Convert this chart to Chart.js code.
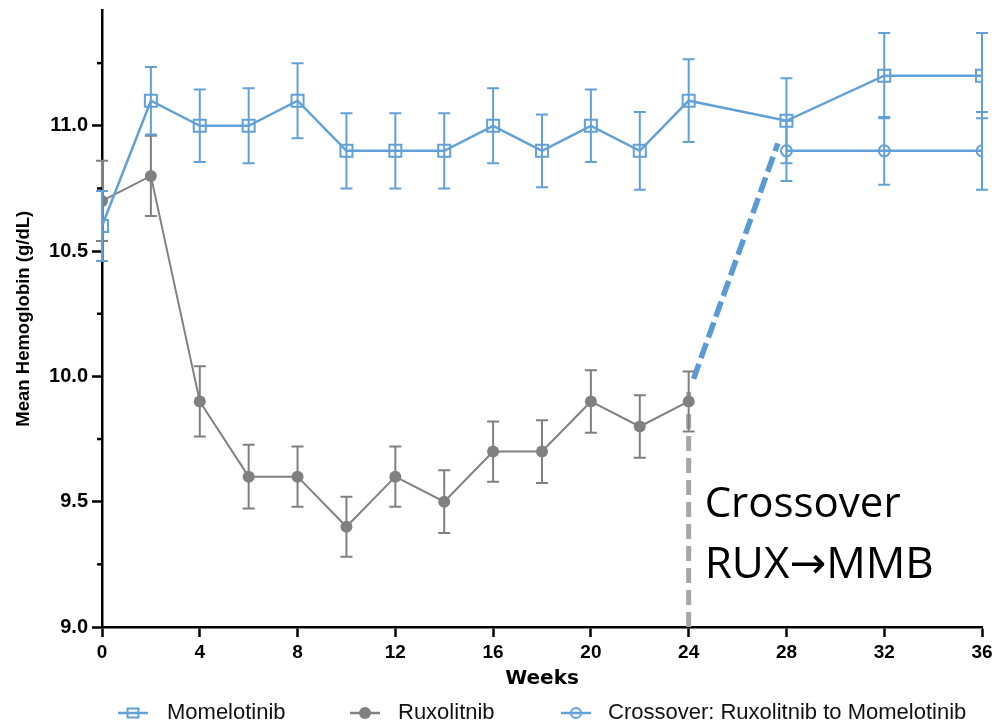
<!DOCTYPE html>
<html>
<head>
<meta charset="utf-8">
<script src="https://cdn.jsdelivr.net/npm/chart.js@4.4.0/dist/chart.umd.min.js"></script>
<style>
  html, body { margin: 0; padding: 0; background: #fff; }
</style>
</head>
<body>
<canvas id="grafico" width="997" height="723"></canvas>
<script>
//-------------------------- Dados --------------------------
const semanasMomelotinib = [0, 2, 4, 6, 8, 10, 12, 14, 16, 18, 20, 22, 24, 28, 32, 36];
const momelotinib = [10.6, 11.1, 11.0, 11.0, 11.1, 10.9, 10.9, 10.9, 11.0, 10.9, 11.0, 10.9, 11.1, 11.02, 11.2, 11.2];
const erroMomelotinib = [0.14, 0.135, 0.145, 0.15, 0.15, 0.15, 0.15, 0.15, 0.15, 0.145, 0.145, 0.155, 0.165, 0.17, 0.17, 0.17];

const semanasRuxolitinib = [0, 2, 4, 6, 8, 10, 12, 14, 16, 18, 20, 22, 24];
const ruxolitinib = [10.7, 10.8, 9.9, 9.6, 9.6, 9.4, 9.6, 9.5, 9.7, 9.7, 9.9, 9.8, 9.9];
const erroRuxolitinib = [0.16, 0.16, 0.14, 0.127, 0.12, 0.12, 0.12, 0.125, 0.12, 0.125, 0.125, 0.125, 0.12];

const semanasCrossover = [28, 32, 36];
const crossover = [10.9, 10.9, 10.9];
const erroCrossover = [0.12, 0.135, 0.155];

// linhas tracejadas da troca de tratamento
const linhaCinzaX = [24, 24];
const linhaCinzaY = [9.0, 9.94];
const linhaAzulX = [24.2, 27.65];
const linhaAzulY = [9.99, 10.93];

const ticksX = [0, 4, 8, 12, 16, 20, 24, 28, 32, 36];
const ticksY = [9.0, 9.5, 10.0, 10.5, 11.0];
const ticksYMenores = [9.25, 9.75, 10.25, 10.75, 11.25];

const legendas = ["Momelotinib", "Ruxolitnib", "Crossover: Ruxolitnib to Momelotinib"];

const AZUL = "#62a0d8";
const CINZA = "#808080";

function pontos(xs, ys) {
    return xs.map((x, i) => ({ x: x, y: ys[i] }));
}

//-------------------------- Plugins --------------------------
const barrasDeErro = {
    id: "barrasDeErro",
    beforeDatasetDraw(chart, args) {
        const ds = chart.data.datasets[args.index];
        if (!ds.erros) return;
        const ctx = chart.ctx;
        const yScale = chart.scales.y;
        ctx.save();
        ctx.strokeStyle = ds.borderColor;
        ctx.lineWidth = 2;
        args.meta.data.forEach((p, i) => {
            const v = ds.data[i].y;
            const e = ds.erros[i];
            const y1 = yScale.getPixelForValue(v + e);
            const y2 = yScale.getPixelForValue(v - e);
            ctx.beginPath();
            ctx.moveTo(p.x, y1);
            ctx.lineTo(p.x, y2);
            ctx.moveTo(p.x - 6, y1);
            ctx.lineTo(p.x + 6, y1);
            ctx.moveTo(p.x - 6, y2);
            ctx.lineTo(p.x + 6, y2);
            ctx.stroke();
        });
        ctx.restore();
    },
};

const extras = {
    id: "extras",
    afterDraw(chart) {
        const ctx = chart.ctx;
        const xScale = chart.scales.x;
        const yScale = chart.scales.y;
        const area = chart.chartArea;

        // ticks menores do eixo Y
        ctx.save();
        ctx.strokeStyle = "#000";
        ctx.lineWidth = 2.5;
        ticksYMenores.forEach((v) => {
            const y = yScale.getPixelForValue(v);
            ctx.beginPath();
            ctx.moveTo(area.left - 5, y);
            ctx.lineTo(area.left, y);
            ctx.stroke();
        });

        // texto da troca
        const x24 = xScale.getPixelForValue(24);
        const y9 = yScale.getPixelForValue(9.0);
        ctx.fillStyle = "#000";
        ctx.font = "42px 'Open Sans', 'DejaVu Sans', sans-serif";
        ctx.textAlign = "left";
        ctx.textBaseline = "alphabetic";
        ctx.fillText("Crossover", x24 + 16, y9 - 110);
        ctx.font = "44px 'Open Sans', 'DejaVu Sans', sans-serif";
        ctx.fillText("RUX\u2192MMB", x24 + 16, y9 - 49);

        // legenda
        const yLeg = 713;
        const itens = [
            { cx: 133, tx: 167, estilo: "rect", cor: AZUL },
            { cx: 365, tx: 398, estilo: "dot", cor: CINZA },
            { cx: 576, tx: 608, estilo: "circle", cor: AZUL },
        ];
        ctx.font = "22px 'Liberation Sans', Arial, sans-serif";
        ctx.textBaseline = "middle";
        itens.forEach((it, i) => {
            ctx.strokeStyle = it.cor;
            ctx.lineWidth = 2.5;
            ctx.beginPath();
            ctx.moveTo(it.cx - 15, yLeg);
            ctx.lineTo(it.cx + 15, yLeg);
            ctx.stroke();
            ctx.lineWidth = 2;
            if (it.estilo === "rect") {
                ctx.strokeRect(it.cx - 5.5, yLeg - 4.5, 11, 9);
            } else if (it.estilo === "dot") {
                ctx.fillStyle = it.cor;
                ctx.beginPath();
                ctx.arc(it.cx, yLeg, 6, 0, Math.PI * 2);
                ctx.fill();
            } else {
                ctx.beginPath();
                ctx.arc(it.cx, yLeg, 5, 0, Math.PI * 2);
                ctx.stroke();
            }
            ctx.fillStyle = "#111";
            ctx.fillText(legendas[i], it.tx, yLeg);
        });
        ctx.restore();
    },
};

//-------------------------- Gráfico --------------------------
Chart.defaults.font.family = "'Liberation Sans', Arial, sans-serif";
Chart.defaults.color = "#000";

const ctx = document.getElementById("grafico").getContext("2d");

new Chart(ctx, {
    type: "line",
    data: {
        datasets: [
            {
                label: legendas[0],
                data: pontos(semanasMomelotinib, momelotinib),
                erros: erroMomelotinib,
                borderColor: AZUL,
                backgroundColor: "rgba(0,0,0,0)",
                borderWidth: 2.5,
                pointStyle: "rect",
                pointRadius: 8.5,
                pointBorderWidth: 2,
                order: 0,
            },
            {
                label: legendas[1],
                data: pontos(semanasRuxolitinib, ruxolitinib),
                erros: erroRuxolitinib,
                borderColor: CINZA,
                backgroundColor: CINZA,
                borderWidth: 2,
                pointStyle: "circle",
                pointRadius: 6,
                pointBorderWidth: 0,
                order: 1,
            },
            {
                label: legendas[2],
                data: pontos(semanasCrossover, crossover),
                erros: erroCrossover,
                borderColor: AZUL,
                backgroundColor: "rgba(0,0,0,0)",
                borderWidth: 2.5,
                pointStyle: "circle",
                pointRadius: 5.5,
                pointBorderWidth: 2,
                order: 2,
            },
            {
                label: "troca cinza",
                data: pontos(linhaCinzaX, linhaCinzaY),
                borderColor: "#a6a6a6",
                borderWidth: 5,
                borderDash: [15, 7],
                pointRadius: 0,
                order: 3,
            },
            {
                label: "troca azul",
                data: pontos(linhaAzulX, linhaAzulY),
                borderColor: "#5b9bd5",
                borderWidth: 5.5,
                borderDash: [16, 6],
                pointRadius: 0,
                order: 3,
            },
        ],
    },
    options: {
        responsive: false,
        animation: false,
        layout: {
            padding: { top: 10, right: 15, bottom: 32, left: 0 },
        },
        plugins: {
            legend: { display: false },
            tooltip: { enabled: false },
        },
        scales: {
            x: {
                type: "linear",
                min: 0,
                max: 36,
                afterBuildTicks: (scale) => {
                    scale.ticks = ticksX.map((v) => ({ value: v }));
                },
                afterFit: (scale) => {
                    scale.height = 64;
                    scale.paddingLeft = 0;
                    scale.paddingRight = 0;
                },
                border: { display: true, color: "#000", width: 2.5 },
                grid: {
                    drawOnChartArea: false,
                    drawTicks: true,
                    tickLength: 10,
                    tickWidth: 2.5,
                    tickColor: "#000",
                },
                ticks: {
                    font: { size: 19, weight: "bold" },
                    padding: 4,
                    maxRotation: 0,
                    color: "#000",
                },
                title: {
                    display: true,
                    text: "Weeks",
                    font: { size: 20, weight: "bold", family: "'DejaVu Sans', sans-serif" },
                    padding: { top: 0, bottom: 0 },
                    color: "#000",
                },
            },
            y: {
                type: "linear",
                min: 9.0,
                max: 11.46,
                afterBuildTicks: (scale) => {
                    scale.ticks = ticksY.map((v) => ({ value: v }));
                },
                afterFit: (scale) => {
                    scale.width = 102;
                    scale.paddingTop = 0;
                    scale.paddingBottom = 0;
                },
                border: { display: true, color: "#000", width: 2.5 },
                grid: {
                    drawOnChartArea: false,
                    drawTicks: true,
                    tickLength: 10,
                    tickWidth: 2.5,
                    tickColor: "#000",
                },
                ticks: {
                    font: { size: 20, weight: "bold" },
                    padding: 4,
                    color: "#000",
                    callback: (v) => Number(v).toFixed(1),
                },
                title: {
                    display: true,
                    text: "Mean Hemoglobin (g/dL)",
                    font: { size: 18.5, weight: "bold" },
                    padding: { top: 13, bottom: 0 },
                    color: "#000",
                },
            },
        },
    },
    plugins: [barrasDeErro, extras],
});
</script>
</body>
</html>
